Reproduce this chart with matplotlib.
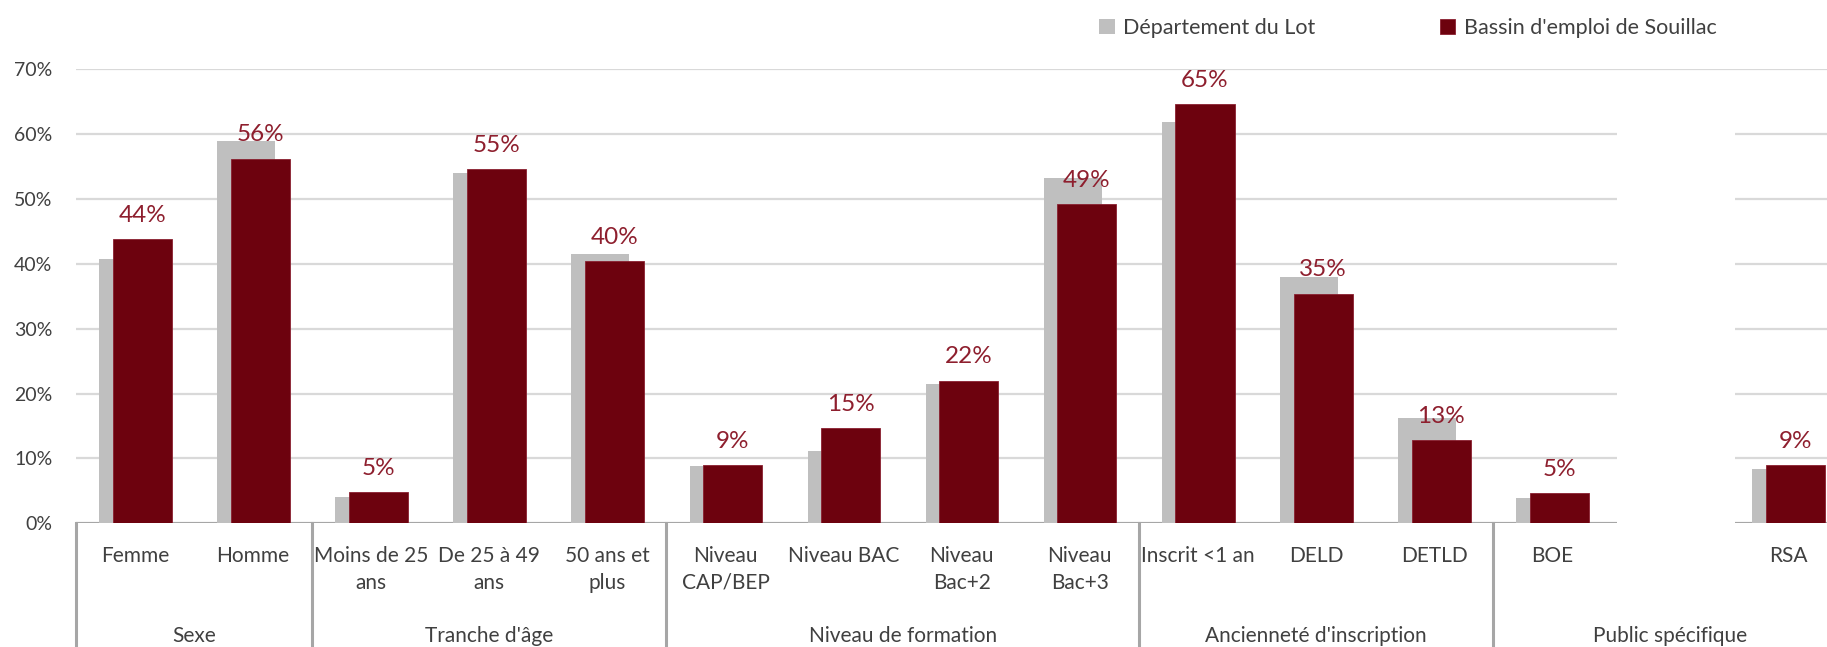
import matplotlib
matplotlib.use("Agg")
import matplotlib.pyplot as plt
from matplotlib.patches import Rectangle
import numpy as np

# categories (empty slot between BOE and RSA, as in the source chart)
categories = ["Femme", "Homme",
              "Moins de 25\nans", "De 25 à 49\nans", "50 ans et\nplus",
              "Niveau\nCAP/BEP", "Niveau BAC", "Niveau\nBac+2", "Niveau\nBac+3",
              "Inscrit <1 an", "DELD", "DETLD",
              "BOE", "", "RSA"]
groups = ["Sexe", "Tranche d'âge", "Niveau de formation",
          "Ancienneté d'inscription", "Public spécifique"]
group_sizes = [2, 3, 4, 3, 3]

lot = [40.8, 58.9, 4.0, 54.0, 41.5, 8.8, 11.1, 21.5, 53.3,
       61.8, 38.0, 16.2, 3.9, np.nan, 8.4]
souillac = [43.8, 56.2, 4.8, 54.6, 40.4, 9.0, 14.7, 22.0, 49.2,
            64.6, 35.4, 12.8, 4.6, np.nan, 9.0]

series_names = ["Département du Lot", "Bassin d'emploi de Souillac"]

GREY = "#BFBFBF"
RED = "#6D020E"
LABEL_RED = "#8E1F2E"
TXT = "#404040"

plt.rcParams["font.family"] = ["Lato", "DejaVu Sans"]

fig = plt.figure(figsize=(18.27, 6.47), dpi=100)
ax = fig.add_axes([0.0416, 0.1912, 0.9696, 0.7017])

x = np.arange(len(categories))
lot_v = np.array(lot) / 100
sou_v = np.array(souillac) / 100

b1 = ax.bar(x - 0.06, lot_v, width=0.49, color=GREY, zorder=3,
            label=series_names[0])
b2 = ax.bar(x + 0.06, sou_v, width=0.5, color=RED, zorder=4,
            edgecolor="#8a2030", linewidth=0.6, label=series_names[1])

for xi, v in zip(x, sou_v):
    if np.isnan(v):
        continue
    ax.annotate(f"{round(v * 100)}%", xy=(xi + 0.06, v), xytext=(0, 12.5),
                textcoords="offset points", ha="center", va="baseline",
                fontsize=17.5, color=LABEL_RED)

ax.set_xlim(-0.5, len(categories) - 0.5)
ax.set_ylim(0, 0.70)
ax.set_yticks(np.arange(0, 0.71, 0.1))
ax.set_yticklabels([f"{int(round(t * 100))}%" for t in np.arange(0, 0.71, 0.1)])
ax.tick_params(axis="y", length=0, pad=17, labelsize=14, labelcolor=TXT)
ax.set_xticks([])
ax.yaxis.grid(True, color="#D9D9D9", linewidth=1.6, zorder=0)
ax.set_axisbelow(True)
for s in ax.spines.values():
    s.set_visible(False)
ax.axhline(0, color="#A6A6A6", linewidth=2.2, zorder=2)

# white patch over the empty slot (hides gridlines and baseline there)
ax.add_patch(Rectangle((12.55, -0.01), 1.0, 0.665, facecolor="white",
                       edgecolor="none", zorder=2.5, clip_on=False))

trans = ax.get_xaxis_transform()
for xi, lab in zip(x, categories):
    ax.text(xi, -0.05, lab, transform=trans, ha="center", va="top",
            fontsize=15, color=TXT, linespacing=1.42)

bounds = np.concatenate([[0], np.cumsum(group_sizes)]) - 0.5
for bx in bounds:
    ax.plot([bx, bx], [0, -0.3], transform=trans, color="#A6A6A6",
            linewidth=2.2, clip_on=False, zorder=2)
for g, lo, hi in zip(groups, bounds[:-1], bounds[1:]):
    ax.text((lo + hi) / 2, -0.249, g, transform=trans, ha="center",
            va="center", fontsize=15, color=TXT)

fig.legend(handles=[b1, b2], labels=series_names, loc="center",
           bbox_to_anchor=(0.7707, 0.957), ncol=2, frameon=False,
           fontsize=15.5, handlelength=0.7, handleheight=0.7,
           handletextpad=0.4, columnspacing=5.8, labelcolor=TXT)

fig.savefig("out.png", dpi=100)
